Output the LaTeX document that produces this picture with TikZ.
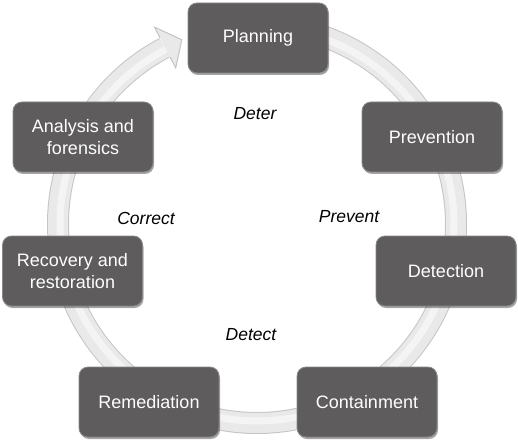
\documentclass[tikz,border=0pt]{standalone}
\usepackage{fontspec}
\setmainfont{Liberation Sans}
\usetikzlibrary{shadows,calc}
\definecolor{boxfill}{HTML}{5E5C5C}
\definecolor{boxedge}{HTML}{8A8888}
\definecolor{bandfill}{HTML}{E9E9E9}
\definecolor{bandedge}{HTML}{C4C4C4}
\definecolor{bandhi}{HTML}{F4F4F4}
\tikzset{
  stagebox/.style={draw=boxedge, line width=0.8pt, fill=boxfill, rounded corners=9pt,
    minimum width=140pt, minimum height=70pt, text=white, align=center,
    font=\fontsize{18}{22}\selectfont,
    drop shadow={shadow xshift=1pt, shadow yshift=-2pt, opacity=0.35, fill=black}},
  phase/.style={font=\fontsize{17.5}{21}\selectfont\itshape, text=black},
}
\begin{document}
\begin{tikzpicture}[x=1pt,y=1pt]
\useasboundingbox (0,0) rectangle (518,442);
\coordinate (c) at (257,218);
% ring band
\draw[bandedge, line width=22pt] (c) ++(92:199) arc[start angle=92, end angle=-242.3, radius=199];
\draw[bandfill, line width=20pt] (c) ++(92:199) arc[start angle=92, end angle=-242.3, radius=199];
\draw[bandhi, line width=7pt] (c) ++(92:197) arc[start angle=92, end angle=-242.3, radius=197];
% arrow head
\filldraw[fill=bandfill, draw=bandedge, line width=1pt]
  ($(c)+(117.5:210)$) -- ($(c)+(117.5:222)$) -- ($(c)+(112.2:199)$) -- ($(c)+(117.5:176)$) -- ($(c)+(117.5:188)$);
% boxes
\node[stagebox] (plan) at (258,404) {Planning};
\node[stagebox] (prev) at (432,305) {Prevention};
\node[stagebox] (det) at (446,171) {Detection};
\node[stagebox] (cont) at (367,40) {Containment};
\node[stagebox] (rem) at (149,40) {Remediation};
\node[stagebox] (rec) at (72.5,171) {Recovery and\\restoration};
\node[stagebox] (ana) at (83,305) {Analysis and\\forensics};
% phase labels
\node[phase] (deter) at (255,328) {Deter};
\node[phase] (prevent) at (349,225) {Prevent};
\node[phase] (correct) at (146,224) {Correct};
\node[phase] (detect) at (251,107) {Detect};
\end{tikzpicture}
\end{document}
